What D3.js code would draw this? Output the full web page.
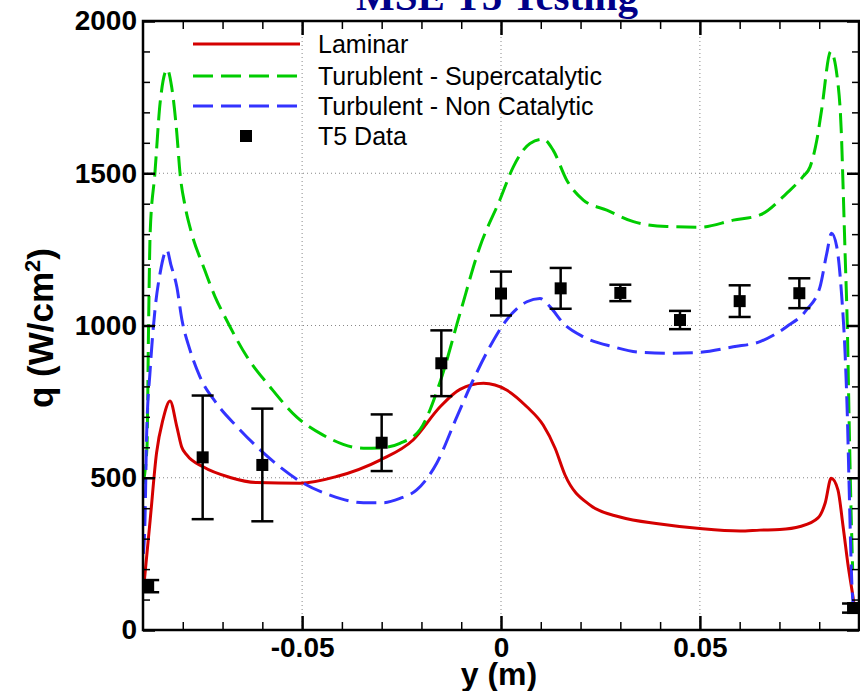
<!DOCTYPE html>
<html><head><meta charset="utf-8">
<script src="https://cdn.jsdelivr.net/npm/d3@7"></script>
<style>body{margin:0;background:#fff}svg{display:block}</style>
</head><body>
<svg id="c" width="860" height="691"></svg>
<script>
// ---------- data ----------
const laminarY = [-0.0899,-0.0882,-0.0866,-0.0850,-0.0832,-0.0815,-0.0803,-0.0790,-0.0749,-0.0681,-0.0614,-0.0505,-0.0413,-0.0304,-0.0221,-0.0153,-0.0103,-0.0044,0.0014,0.0065,0.0106,0.0136,0.0161,0.0224,0.0299,0.0400,0.0500,0.0601,0.0651,0.0701,0.0752,0.0797,0.0815,0.0830,0.0847,0.0860,0.0873,0.0886,0.0890];
const laminarQ = [130,361,581,690,752,668,602,575,536,501,484,482,504,558,624,733,790,810,788,733,673,597,509,410,371,348,333,325,328,330,340,368,417,498,460,340,208,99,60];

const superY = [-0.0900,-0.0890,-0.0886,-0.0882,-0.0870,-0.0857,-0.0839,-0.0828,-0.0815,-0.0807,-0.0794,-0.0778,-0.0748,-0.0719,-0.0690,-0.0639,-0.0581,-0.0514,-0.0447,-0.0346,-0.0304,-0.0254,-0.0204,-0.0153,-0.0103,-0.0053,-0.0003,0.0031,0.0073,0.0106,0.0131,0.0165,0.0207,0.0266,0.0333,0.0417,0.0500,0.0584,0.0651,0.0718,0.0759,0.0777,0.0794,0.0806,0.0829,0.0848,0.0856,0.0860,0.0865,0.0871,0.0875,0.0879,0.0884];
const superQ = [480,600,1000,1304,1501,1731,1841,1784,1632,1501,1391,1304,1193,1095,1018,898,799,700,640,597,598,613,657,815,1040,1259,1412,1521,1598,1612,1576,1478,1412,1379,1341,1325,1323,1346,1363,1434,1489,1521,1609,1708,1900,1784,1620,1456,1238,975,700,450,200];

const nonCatY = [-0.0899,-0.0895,-0.0891,-0.0882,-0.0870,-0.0857,-0.0840,-0.0830,-0.0815,-0.0802,-0.0782,-0.0757,-0.0715,-0.0664,-0.0614,-0.0556,-0.0497,-0.0430,-0.0346,-0.0296,-0.0254,-0.0212,-0.0162,-0.0111,-0.0070,-0.0028,0.0014,0.0065,0.0098,0.0123,0.0157,0.0207,0.0282,0.0349,0.0433,0.0500,0.0584,0.0651,0.0718,0.0768,0.0802,0.0819,0.0831,0.0844,0.0856,0.0865,0.0871,0.0875,0.0882,0.0886];
const nonCatQ = [250,361,635,854,1050,1172,1248,1200,1127,1018,920,832,744,668,602,536,482,443,418,418,432,460,547,700,821,930,1018,1078,1089,1062,1007,963,930,912,909,912,930,947,996,1051,1127,1237,1303,1259,1106,909,690,480,154,70];

const t5Y   = [-0.0887,-0.075,-0.060,-0.030,-0.015,0.000,0.015,0.030,0.045,0.060,0.075,0.0885];
const t5Q   = [144,567,542,615,876,1105,1122,1107,1018,1080,1106,72];
const t5Err = [20,203,185,93,108,72,67,27,30,52,49,15];

const xMajor = [-0.05, 0, 0.05];
const xMinor = [-0.08,-0.07,-0.06,-0.04,-0.03,-0.02,-0.01,0.01,0.02,0.03,0.04,0.06,0.07,0.08];
const yMajor = [0, 500, 1000, 1500, 2000];
const yMinor = [100,200,300,400,600,700,800,900,1100,1200,1300,1400,1600,1700,1800,1900];
const yGrid  = [500, 1000, 1500];

const legendLabels = ["Laminar","Turublent - Supercatalytic","Turbulent - Non Catalytic","T5 Data"];
const seriesColors = ["#d40000","#00cc00","#3333ff"];

// ---------- scales ----------
const L = 143, R = 859, T = 21, B = 630;
const x = d3.scaleLinear().domain([-0.09, 0.09]).range([L, R]);
const y = d3.scaleLinear().domain([0, 2000]).range([B, T]);

const svg = d3.select("#c");
const sans = "'Liberation Sans', Arial, Helvetica, sans-serif";

svg.append("defs").append("clipPath").attr("id","clip")
  .append("rect").attr("x",L).attr("y",T).attr("width",R-L).attr("height",B-T);

// grid
const grid = svg.append("g").attr("stroke","#888").attr("stroke-width",1).attr("stroke-dasharray","1,3");
grid.selectAll(".gx").data(xMajor).enter().append("line")
  .attr("x1",d=>x(d)).attr("x2",d=>x(d)).attr("y1",T).attr("y2",B);
grid.selectAll(".gy").data(yGrid).enter().append("line")
  .attr("x1",L).attr("x2",R).attr("y1",d=>y(d)).attr("y2",d=>y(d));

// curves
const line = d3.line().x(d=>x(d[0])).y(d=>y(d[1])).curve(d3.curveMonotoneX);
const plot = svg.append("g").attr("clip-path","url(#clip)");
const series = [
  {xs: laminarY, qs: laminarQ, color: seriesColors[0], dash: null},
  {xs: superY, qs: superQ, color: seriesColors[1], dash: "20,8"},
  {xs: nonCatY, qs: nonCatQ, color: seriesColors[2], dash: "20,8"}
];
series.forEach(s => {
  plot.append("path").datum(s.xs.map((v,i)=>[v, s.qs[i]]))
    .attr("d", line).attr("fill","none").attr("stroke", s.color)
    .attr("stroke-width", 3).attr("stroke-dasharray", s.dash)
    .attr("stroke-linejoin","round");
});

// data points
const pts = t5Y.map((v,i)=>({v, q:t5Q[i], e:t5Err[i]}));
const eb = plot.append("g").attr("stroke","#000").attr("stroke-width",2.5);
eb.selectAll(".v").data(pts).enter().append("line")
  .attr("x1",d=>x(d.v)).attr("x2",d=>x(d.v)).attr("y1",d=>y(d.q+d.e)).attr("y2",d=>y(d.q-d.e));
eb.selectAll(".t").data(pts).enter().append("line")
  .attr("x1",d=>x(d.v)-11).attr("x2",d=>x(d.v)+11).attr("y1",d=>y(d.q+d.e)).attr("y2",d=>y(d.q+d.e));
eb.selectAll(".b").data(pts).enter().append("line")
  .attr("x1",d=>x(d.v)-11).attr("x2",d=>x(d.v)+11).attr("y1",d=>y(d.q-d.e)).attr("y2",d=>y(d.q-d.e));
plot.selectAll(".sq").data(pts).enter().append("rect")
  .attr("x",d=>x(d.v)-6).attr("y",d=>y(d.q)-6).attr("width",12).attr("height",12).attr("fill","#000");

// axes
function styleAxis(g, w){
  g.select(".domain").remove();
  g.selectAll("line").attr("stroke","#000").attr("stroke-width",w);
}
const fmtX = d => d === 0 ? "0" : d.toFixed(2);
const bMaj = svg.append("g").attr("transform",`translate(0,${B})`)
  .call(d3.axisBottom(x).tickValues(xMajor).tickSize(-14).tickFormat(fmtX));
styleAxis(bMaj, 2.5);
bMaj.selectAll("text").attr("y",27).attr("dy",null)
  .attr("font-family",sans).attr("font-weight","bold").attr("font-size",28).attr("fill","#000");
const bMin = svg.append("g").attr("transform",`translate(0,${B})`)
  .call(d3.axisBottom(x).tickValues(xMinor).tickSize(-8).tickFormat(""));
styleAxis(bMin, 1.5);
const tMaj = svg.append("g").attr("transform",`translate(0,${T})`)
  .call(d3.axisTop(x).tickValues(xMajor).tickSize(-14).tickFormat(""));
styleAxis(tMaj, 2.5);
const tMin = svg.append("g").attr("transform",`translate(0,${T})`)
  .call(d3.axisTop(x).tickValues(xMinor).tickSize(-8).tickFormat(""));
styleAxis(tMin, 1.5);

const lMaj = svg.append("g").attr("transform",`translate(${L},0)`)
  .call(d3.axisLeft(y).tickValues(yMajor).tickSize(-12).tickPadding(6).tickFormat(d3.format("d")));
styleAxis(lMaj, 2.5);
lMaj.selectAll("text").attr("font-family",sans).attr("font-weight","bold").attr("font-size",28).attr("fill","#000");
const lMin = svg.append("g").attr("transform",`translate(${L},0)`)
  .call(d3.axisLeft(y).tickValues(yMinor).tickSize(-7).tickFormat(""));
styleAxis(lMin, 1.5);
const rMaj = svg.append("g").attr("transform",`translate(${R},0)`)
  .call(d3.axisRight(y).tickValues(yMajor).tickSize(-12).tickFormat(""));
styleAxis(rMaj, 2.5);
const rMin = svg.append("g").attr("transform",`translate(${R},0)`)
  .call(d3.axisRight(y).tickValues(yMinor).tickSize(-7).tickFormat(""));
styleAxis(rMin, 1.5);

// frame
svg.append("rect").attr("x",L).attr("y",T).attr("width",R-L).attr("height",B-T)
  .attr("fill","none").attr("stroke","#000").attr("stroke-width",2.5);

// legend
const legRows = [44, 76, 106, 136];
const leg = svg.append("g");
[0,1,2].forEach(i => {
  leg.append("line").attr("x1",193).attr("x2",300).attr("y1",legRows[i]).attr("y2",legRows[i])
    .attr("stroke",seriesColors[i]).attr("stroke-width",3)
    .attr("stroke-dasharray", series[i].dash);
});
leg.append("rect").attr("x",240).attr("y",legRows[3]-6).attr("width",12).attr("height",12).attr("fill","#000");
legendLabels.forEach((t,i) => {
  leg.append("text").attr("x",318).attr("y",legRows[i]+9).text(t)
    .attr("font-family",sans).attr("font-size",25).attr("fill","#000");
});

// title and axis labels
svg.append("text").attr("x",497).attr("y",10).attr("text-anchor","middle")
  .attr("font-family","'Liberation Serif','Times New Roman',serif").attr("font-weight","bold")
  .attr("font-size",41).attr("fill","#000088").text("MSE T5 Testing");

svg.append("text").attr("x",499).attr("y",685).attr("text-anchor","middle")
  .attr("font-family",sans).attr("font-weight","bold").attr("font-size",32).attr("fill","#000")
  .text("y (m)");

const yl = svg.append("text").attr("transform","translate(53,328) rotate(-90)")
  .attr("text-anchor","middle").attr("font-family",sans).attr("font-weight","bold")
  .attr("font-size",35).attr("fill","#000");
yl.append("tspan").text("q (W/cm");
yl.append("tspan").attr("font-size",22).attr("dy",-13).text("2");
yl.append("tspan").attr("dy",13).text(")");
</script>
</body></html>
